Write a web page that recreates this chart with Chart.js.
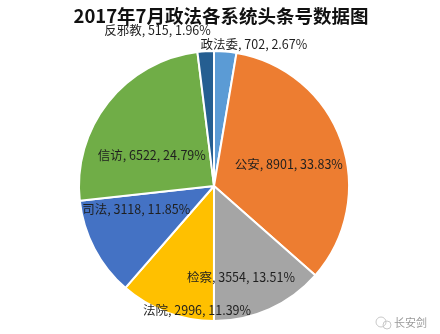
<!DOCTYPE html>
<html>
<head>
<meta charset="utf-8">
<script src="https://cdn.jsdelivr.net/npm/chart.js@4/dist/chart.umd.min.js"></script>
<style>
  html, body { margin: 0; padding: 0; background: #fff; }
  #wrap { width: 440px; height: 334px; position: relative; }
</style>
</head>
<body>
<div id="wrap"><canvas id="c" width="440" height="334"></canvas></div>
<script>
const chartTitle = '2017年7月政法各系统头条号数据图';
const categories = ['政法委', '公安', '检察', '法院', '司法', '信访', '反邪教'];
const counts = [702, 8901, 3554, 2996, 3118, 6522, 515];
const percentLabels = ['2.67%', '33.83%', '13.51%', '11.39%', '11.85%', '24.79%', '1.96%'];
const sliceColors = ['#5B9BD5', '#ED7D31', '#A5A5A5', '#FFC000', '#4472C4', '#70AD47', '#255E91'];

// label placement: fraction of radius along the slice's mid-angle, plus a small nudge in px
const labelPlacement = [
  { k: 1.05, dx: 28, dy: 0 },
  { k: 0.58, dx: 1, dy: 4 },
  { k: 0.72, dx: -13, dy: 3 },
  { k: 0.97, dx: 29, dy: 2 },
  { k: 0.60, dx: -6, dy: -14 },
  { k: 0.55, dx: -4, dy: 15 },
  { k: 1.15, dx: -47, dy: -1 }
];

const cjkFont = '"Noto Sans CJK SC", "Noto Sans", sans-serif';

const sliceLabels = {
  id: 'sliceLabels',
  afterDatasetsDraw(chart) {
    const ctx = chart.ctx;
    const arcs = chart.getDatasetMeta(0).data;
    ctx.save();
    ctx.font = '12.5px ' + cjkFont;
    ctx.fillStyle = '#1f1f1f';
    ctx.textAlign = 'center';
    ctx.textBaseline = 'middle';
    arcs.forEach((arc, i) => {
      const p = arc.getProps(['x', 'y', 'startAngle', 'endAngle', 'outerRadius'], true);
      const mid = (p.startAngle + p.endAngle) / 2;
      const place = labelPlacement[i];
      const r = p.outerRadius * place.k;
      const x = p.x + Math.cos(mid) * r + place.dx;
      const y = p.y + Math.sin(mid) * r + place.dy;
      ctx.fillText(categories[i] + ', ' + counts[i] + ', ' + percentLabels[i], x, y);
    });
    ctx.restore();
  },
  afterDraw(chart) {
    const ctx = chart.ctx;
    ctx.save();
    // heading
    ctx.font = 'bold 18.5px ' + cjkFont;
    ctx.fillStyle = '#111';
    ctx.textAlign = 'center';
    ctx.textBaseline = 'middle';
    ctx.fillText(chartTitle, 221, 16);
    // account mark in the corner
    ctx.strokeStyle = '#c8c8c8';
    ctx.lineWidth = 1;
    ctx.beginPath();
    ctx.arc(381, 322, 5, 0, Math.PI * 2);
    ctx.stroke();
    ctx.beginPath();
    ctx.arc(387, 325, 4, 0, Math.PI * 2);
    ctx.stroke();
    ctx.font = '11px ' + cjkFont;
    ctx.fillStyle = '#9a9a9a';
    ctx.textAlign = 'left';
    ctx.fillText('长安剑', 394, 323);
    ctx.restore();
  }
};

new Chart(document.getElementById('c'), {
  type: 'pie',
  data: {
    labels: categories,
    datasets: [{
      data: counts,
      backgroundColor: sliceColors,
      borderColor: '#ffffff',
      borderWidth: 2,
      hoverOffset: 0
    }]
  },
  options: {
    responsive: false,
    animation: false,
    radius: 135,
    layout: { padding: { top: 51, bottom: 13, left: 79, right: 91 } },
    plugins: {
      legend: { display: false },
      title: { display: false },
      tooltip: { enabled: false }
    }
  },
  plugins: [sliceLabels]
});
</script>
</body>
</html>
